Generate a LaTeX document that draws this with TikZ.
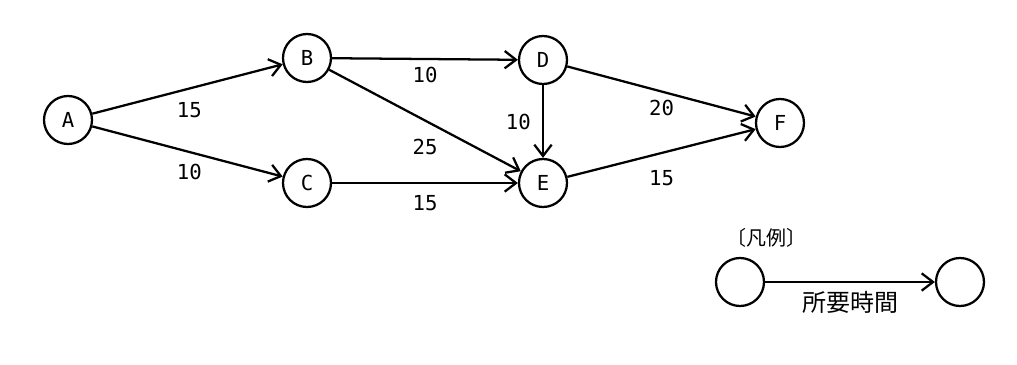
\documentclass[tikz,border=0pt]{standalone}
\usepackage{fontspec}
\setmainfont{DejaVu Sans Mono}
\newfontfamily\jpfont{Noto Sans CJK JP}
\usetikzlibrary{arrows.meta}

\begin{document}
\begin{tikzpicture}[
  x=0.75pt, y=-0.75pt,
  event/.style={circle,draw,line width=1.7pt,minimum size=36pt,inner sep=0pt,
    font=\fontsize{15.5}{15.5}\selectfont},
  task/.style={draw,line width=1.7pt,-{Straight Barb[length=8.5pt,width=13pt]}},
  dur/.style={font=\fontsize{15.5}{15.5}\selectfont,inner sep=1pt}
]
  \useasboundingbox (0,0) rectangle (1017,364);

  % Arrow diagram
  \node[event] (A) at (68,120) {A};
  \node[event] (B) at (307,58) {B};
  \node[event] (C) at (307,183) {C};
  \node[event] (D) at (543,60) {D};
  \node[event] (E) at (543,183) {E};
  \node[event] (F) at (780,123) {F};

  \draw[task] (A) -- node[dur,pos=.51,yshift=-16.5pt] {15} (B);
  \draw[task] (A) -- node[dur,pos=.51,yshift=-15pt] {10} (C);
  \draw[task] (B) -- node[dur,pos=.5,yshift=-12pt] {10} (D);
  \draw[task] (B) -- node[dur,pos=.5,yshift=-19.5pt] {25} (E);
  \draw[task] (D) -- node[dur,pos=.5,xshift=-18.5pt] {10} (E);
  \draw[task] (C) -- node[dur,pos=.5,yshift=-15pt] {15} (E);
  \draw[task] (D) -- node[dur,pos=.5,yshift=-12.5pt] {20} (F);
  \draw[task] (E) -- node[dur,pos=.5,yshift=-19pt] {15} (F);

  % Legend
  \node[font=\jpfont\fontsize{15}{15}\selectfont] (legend) at (766,238) {〔凡例〕};
  \node[event] (from) at (740,282) {};
  \node[event] (to) at (960,282) {};
  \draw[task] (from) -- node[font=\jpfont\fontsize{18}{18}\selectfont,pos=.5,yshift=-15pt] {所要時間} (to);
\end{tikzpicture}
\end{document}
